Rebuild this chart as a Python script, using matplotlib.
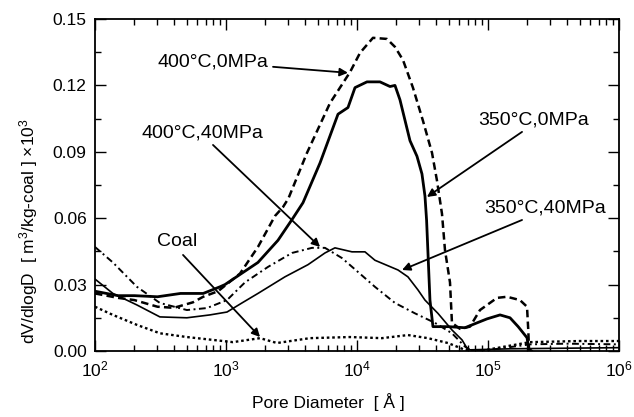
import matplotlib
matplotlib.use("Agg")
import matplotlib.pyplot as plt
from matplotlib.ticker import MultipleLocator, LogLocator, NullFormatter

plt.rcParams['font.family'] = ['Liberation Sans', 'DejaVu Sans']
plt.rcParams['mathtext.fontset'] = 'custom'
plt.rcParams['mathtext.rm'] = 'Liberation Sans'
plt.rcParams['mathtext.it'] = 'Liberation Sans:italic'

# 350°C, 0MPa (trait plein épais)
x_350_0 = [100, 150, 200, 300, 450, 670, 900, 982, 1754, 2494, 3243, 3872, 5227, 7165, 8538,
           9659, 11920, 14980, 17870, 19500, 21290, 25400, 28710, 31340, 33040, 34000, 36070,
           38020, 50000, 66700, 82400, 98200, 123600, 147300, 170000, 198600, 205000, 215000]
y_350_0 = [0.027, 0.025, 0.025, 0.0245, 0.026, 0.026, 0.029, 0.030, 0.040, 0.050, 0.060, 0.067,
           0.085, 0.107, 0.110, 0.119, 0.1216, 0.1216, 0.1195, 0.120, 0.1135, 0.095, 0.088,
           0.080, 0.070, 0.059, 0.023, 0.011, 0.011, 0.0105, 0.0127, 0.0145, 0.0163, 0.015,
           0.011, 0.006, 0.001, 0.0]

# 400°C, 0MPa (tirets)
x_400_0 = [100, 150, 200, 300, 400, 560, 670, 870, 1280, 1754, 2366, 2723, 3000, 4152, 6223,
           8850, 10550, 13250, 16940, 19500, 22440, 26740, 31900, 37400, 40800, 44560, 46970,
           51290, 53100, 61100, 72900, 86900, 117200, 139700, 175400, 198600, 203000, 206000]
y_400_0 = [0.026, 0.024, 0.023, 0.020, 0.0195, 0.022, 0.0245, 0.027, 0.035, 0.047, 0.061,
           0.065, 0.069, 0.0895, 0.112, 0.126, 0.1347, 0.1415, 0.141, 0.1374, 0.1315, 0.119,
           0.104, 0.0895, 0.077, 0.062, 0.0456, 0.031, 0.0127, 0.010, 0.011, 0.0185, 0.024,
           0.0245, 0.023, 0.020, 0.0095, 0.0]

# 400°C, 40MPa (tiret-point)
x_400_40 = [100, 137, 209, 313, 503, 716, 1018, 1397, 2094, 3192, 4533, 5699, 7677, 10180,
            13710, 19500, 27730, 39400, 53100, 66700, 75500, 103500, 209000, 400000, 1000000]
y_400_40 = [0.047, 0.040, 0.029, 0.0217, 0.0185, 0.0194, 0.023, 0.031, 0.038, 0.0443, 0.0466,
            0.0466, 0.042, 0.0357, 0.029, 0.0217, 0.017, 0.0127, 0.008, 0.002, 0.0, 0.0005,
            0.003, 0.0033, 0.003]

# 350°C, 40MPa (trait plein fin)
x_350_40 = [100, 137, 209, 313, 503, 754, 1018, 1324, 1754, 2818, 4227, 5699, 6790, 9160,
            11510, 13710, 20570, 24490, 29210, 33040, 41500, 53100, 63400, 70400, 150000, 1000000]
y_350_40 = [0.0325, 0.026, 0.0208, 0.0154, 0.015, 0.0163, 0.0176, 0.0217, 0.026, 0.0335, 0.039,
            0.0443, 0.0466, 0.0448, 0.0448, 0.041, 0.0366, 0.0335, 0.0276, 0.023, 0.017, 0.0095,
            0.005, 0.0005, 0.001, 0.0015]

# Coal (pointillés)
x_coal = [100, 137, 209, 313, 503, 796, 1129, 1820, 2451, 4373, 8850, 15530, 24490, 34800,
          49500, 66700, 86900, 209000, 500000, 1000000]
y_coal = [0.020, 0.0163, 0.0118, 0.008, 0.0063, 0.005, 0.004, 0.0058, 0.0036, 0.0058, 0.0063,
          0.0058, 0.0072, 0.0058, 0.0036, 0.0005, 0.0, 0.004, 0.0045, 0.0045]

# étiquettes : (texte, position du texte, départ de la flèche, pointe de la flèche)
labels = [
    ("400°C,0MPa", (796, 0.1306), (2286, 0.1284), (8530, 0.1257)),
    ("400°C,40MPa", (656, 0.0985), (796, 0.0931), (5227, 0.047)),
    ("350°C,0MPa", (224400, 0.1044), (182000, 0.099), (34200, 0.0696)),
    ("350°C,40MPa", (272300, 0.0646), (182000, 0.0592), (22080, 0.0366)),
    ("Coal", (423, 0.0493), (470, 0.0434), (1820, 0.0063)),
]

fig = plt.figure(figsize=(6.34, 4.17), dpi=100)
ax = fig.add_axes([0.1498, 0.1583, 0.8265, 0.7961])

ax.plot(x_350_0, y_350_0, color='black', lw=2.0, ls='-')
ax.plot(x_400_0, y_400_0, color='black', lw=1.8, ls=(0, (3.0, 1.7)))
ax.plot(x_400_40, y_400_40, color='black', lw=1.4, ls=(0, (3.5, 1.8, 1, 1.8)))
ax.plot(x_350_40, y_350_40, color='black', lw=1.2, ls='-')
ax.plot(x_coal, y_coal, color='black', lw=1.7, ls=(0, (1.1, 1.2)))

for txt, pos, start, end in labels:
    ax.text(pos[0], pos[1], txt, fontsize=14, ha='center', va='center')
    ax.annotate('', xy=end, xytext=start,
                arrowprops=dict(arrowstyle='-|>', color='black', lw=1.3,
                                mutation_scale=12, shrinkA=0, shrinkB=0))

ax.set_xscale('log')
ax.set_xlim(1e2, 1e6)
ax.set_ylim(0, 0.15)
ax.set_xticks([1e2, 1e3, 1e4, 1e5, 1e6])
ax.set_xticklabels([r'$\mathregular{10^{%d}}$' % k for k in range(2, 7)])
ax.xaxis.set_minor_locator(LogLocator(base=10, subs=range(2, 10), numticks=20))
ax.xaxis.set_minor_formatter(NullFormatter())
ax.yaxis.set_major_locator(MultipleLocator(0.03))
ax.yaxis.set_minor_locator(MultipleLocator(0.015))
ax.yaxis.set_major_formatter(plt.FormatStrFormatter('%.2f'))

ax.tick_params(which='both', direction='in', top=True, right=True, labelsize=12.5, width=1.0)
ax.tick_params(which='major', length=8, pad=6)
ax.tick_params(which='minor', length=4)
for s in ax.spines.values():
    s.set_linewidth(1.3)

fig.text(0.045, 0.445, r'dV/dlogD  [ m$\mathregular{^3}$/kg-coal ] ×10$\mathregular{^3}$',
         rotation=90, ha='center', va='center', fontsize=12.5)
fig.text(0.518, 0.036, 'Pore Diameter  [ Å ]', ha='center', va='center', fontsize=12.5)

fig.savefig('out.png', dpi=100)
